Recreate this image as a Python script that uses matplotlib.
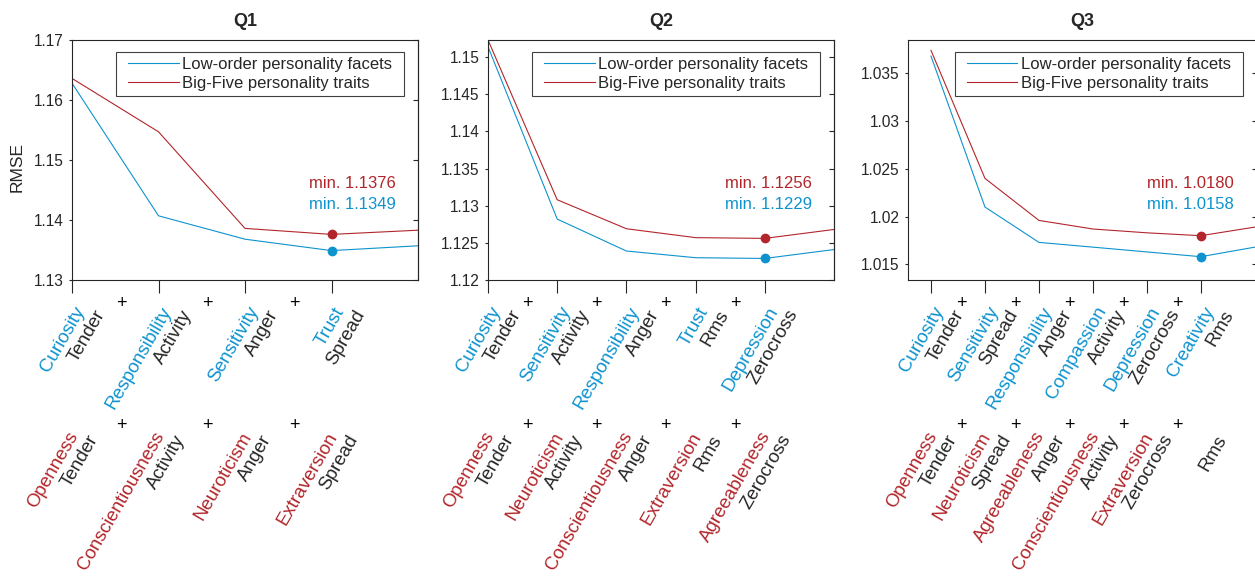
import matplotlib
matplotlib.use('Agg')
import matplotlib.pyplot as plt
import matplotlib.transforms as mtransforms
from matplotlib.patches import Rectangle
from matplotlib.ticker import FormatStrFormatter
import numpy as np

plt.rcParams['font.family'] = ['Liberation Sans', 'DejaVu Sans']

BLUE = '#0E93CF'
RED = '#B2262B'
DARK = '#262626'

# RMSE per number of added features (last point sits on the axis edge)
q1_facets = [1.1628, 1.1407, 1.1368, 1.1349, 1.1357]
q1_traits = [1.1636, 1.1547, 1.1386, 1.1376, 1.1383]
q2_facets = [1.1514, 1.1282, 1.1239, 1.1230, 1.1229, 1.1241]
q2_traits = [1.1523, 1.1308, 1.1269, 1.1257, 1.1256, 1.1268]
q3_facets = [1.0368, 1.0210, 1.0173, 1.0168, 1.0163, 1.0158, 1.0168]
q3_traits = [1.0374, 1.0240, 1.0196, 1.0187, 1.0183, 1.0180, 1.0189]

q1_facet_names = ['Curiosity', 'Responsibility', 'Sensitivity', 'Trust']
q1_trait_names = ['Openness', 'Conscientiousness', 'Neuroticism', 'Extraversion']
q1_features = ['Tender', 'Activity', 'Anger', 'Spread']

q2_facet_names = ['Curiosity', 'Sensitivity', 'Responsibility', 'Trust', 'Depression']
q2_trait_names = ['Openness', 'Neuroticism', 'Conscientiousness', 'Extraversion',
                  'Agreeableness']
q2_features = ['Tender', 'Activity', 'Anger', 'Rms', 'Zerocross']

q3_facet_names = ['Curiosity', 'Sensitivity', 'Responsibility', 'Compassion',
                  'Depression', 'Creativity']
q3_trait_names = ['Openness', 'Neuroticism', 'Agreeableness', 'Conscientiousness',
                  'Extraversion', '']
q3_features = ['Tender', 'Spread', 'Anger', 'Activity', 'Zerocross', 'Rms']

W, H = 1255, 576
fig = plt.figure(figsize=(W / 100, H / 100), dpi=100)


def px_rect(left, top, right, bottom):
    return [left / W, 1 - bottom / H, (right - left) / W, (bottom - top) / H]


def label_text(ax, x, s, dx, dy, color, size=13.5):
    tr = mtransforms.offset_copy(ax.get_xaxis_transform(), fig=fig,
                                 x=dx, y=dy, units='dots')
    ax.text(x, 0, s, transform=tr, rotation=60, rotation_mode='anchor',
            ha='right', va='top', fontsize=size, color=color, clip_on=False)


def draw_panel(rect, title, facets, traits, facet_names, trait_names, features,
               xlim, ylim, yticks, ylabel=None):
    ax = fig.add_axes(rect)
    xs = np.arange(1, len(facets) + 1)
    ax.plot(xs, facets, color=BLUE, lw=0.8, label='Low-order personality facets')
    ax.plot(xs, traits, color=RED, lw=0.8, label='Big-Five personality traits')

    i_f = int(np.argmin(facets))
    i_t = int(np.argmin(traits))
    ax.plot(xs[i_t], traits[i_t], 'o', color=RED, ms=6, zorder=4)
    ax.plot(xs[i_f], facets[i_f], 'o', color=BLUE, ms=6, zorder=4)
    ax.text(0.81, 0.40, f'min. {traits[i_t]:.4f}', transform=ax.transAxes,
            ha='center', va='center', color=RED, fontsize=12)
    ax.text(0.81, 0.313, f'min. {facets[i_f]:.4f}', transform=ax.transAxes,
            ha='center', va='center', color=BLUE, fontsize=12)

    ax.set_xlim(*xlim)
    ax.set_ylim(*ylim)
    ax.set_title(title, fontsize=13, fontweight='bold', color=DARK, pad=10)

    n = len(features)
    ax.set_xticks(np.arange(1, n + 1))
    ax.set_xticklabels([])
    ax.tick_params(axis='x', direction='out', length=9.5, width=0.8,
                   color=DARK, top=False)
    ax.set_yticks(yticks)
    ax.yaxis.set_major_formatter(FormatStrFormatter('%g'))
    ax.tick_params(axis='y', direction='out', length=2.5, width=0.8,
                   color=DARK, labelcolor=DARK, labelsize=11.2, pad=3.5)
    sec = ax.secondary_yaxis('right')
    sec.set_yticks(yticks)
    sec.tick_params(direction='in', length=3.6, width=0.8, color=DARK,
                    labelright=False)
    sec.spines['right'].set_color(DARK)
    for sp in ax.spines.values():
        sp.set_color(DARK)
        sp.set_linewidth(0.8)

    # two rows of rotated labels: facet model on top, Big-Five model below
    for i in range(n):
        x = i + 1
        label_text(ax, x, facet_names[i], 2, -24, BLUE)
        label_text(ax, x, features[i], 22, -27, DARK)
        if trait_names[i]:
            label_text(ax, x, trait_names[i], -5, -149, RED)
        label_text(ax, x, features[i], 15, -152, DARK)
    for i in range(n - 1):
        for dy in (-24, -145):
            tr = mtransforms.offset_copy(ax.get_xaxis_transform(), fig=fig,
                                         x=0, y=dy, units='dots')
            ax.text(i + 1.57, 0, '+', transform=tr, ha='center', va='center',
                    fontsize=13, color='black', clip_on=False)

    if ylabel:
        ax.set_ylabel(ylabel, fontsize=12.5, color=DARK)
        ax.yaxis.set_label_coords(-0.136, 0.47)

    leg = ax.legend(loc='upper right', bbox_to_anchor=(0.939, 0.95),
                    borderaxespad=0, fontsize=12, frameon=False,
                    borderpad=0.3, labelspacing=0.24, handlelength=3.05,
                    handletextpad=0.2)
    for t in leg.get_texts():
        t.set_color(DARK)
    return ax, leg


panels = [
    draw_panel(px_rect(72, 40, 418, 280), 'Q1', q1_facets, q1_traits,
               q1_facet_names, q1_trait_names, q1_features,
               (1, 5), (1.13, 1.17), np.arange(1.13, 1.1701, 0.01), ylabel='RMSE'),
    draw_panel(px_rect(488, 40, 834, 280), 'Q2', q2_facets, q2_traits,
               q2_facet_names, q2_trait_names, q2_features,
               (1, 6), (1.12, 1.1523), np.arange(1.12, 1.1501, 0.005)),
    draw_panel(px_rect(908, 40, 1257, 280), 'Q3', q3_facets, q3_traits,
               q3_facet_names, q3_trait_names, q3_features,
               (0.574, 7.04), (1.01336, 1.03849), np.arange(1.015, 1.0351, 0.005)),
]

# legend frame: wider horizontal padding than matplotlib's uniform borderpad
fig.canvas.draw()
renderer = fig.canvas.get_renderer()
for ax, leg in panels:
    bb = leg.get_window_extent(renderer)
    bb = mtransforms.Bbox.from_extents(bb.x0 - 7, bb.y0, bb.x1 + 7, bb.y1)
    bb = bb.transformed(ax.transAxes.inverted())
    ax.add_patch(Rectangle((bb.x0, bb.y0), bb.width, bb.height,
                           transform=ax.transAxes, fill=False,
                           edgecolor='#404040', lw=0.8, zorder=5, clip_on=False))

fig.savefig('out.png', dpi=100)
